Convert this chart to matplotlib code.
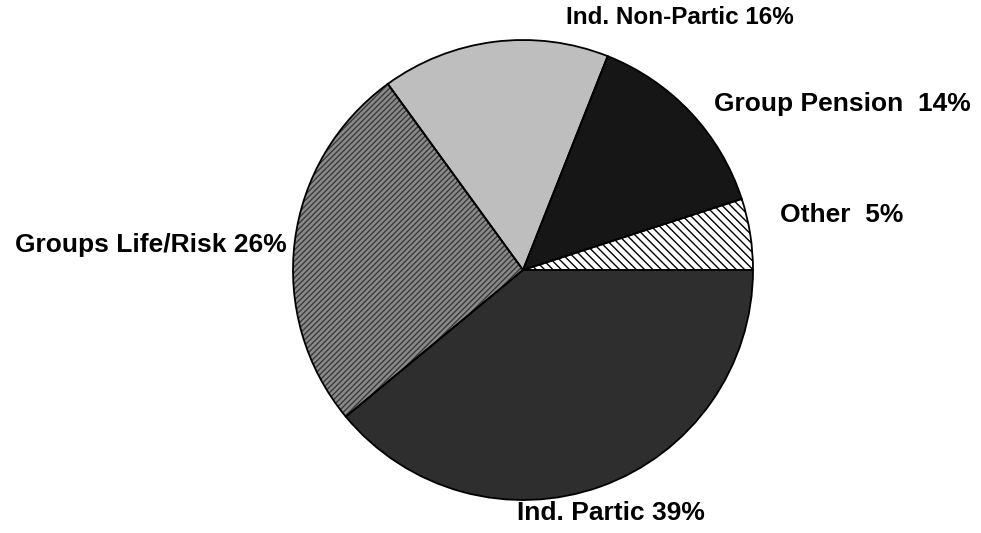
import matplotlib
matplotlib.use("Agg")
import matplotlib.pyplot as plt

categories = ["Other", "Group Pension", "Ind. Non-Partic", "Groups Life/Risk", "Ind. Partic"]
values = [5, 14, 16, 26, 39]
labels = ["Other  5%", "Group Pension  14%", "Ind. Non-Partic 16%", "Groups Life/Risk 26%", "Ind. Partic 39%"]

fills = ["white", "#161616", "#bebebe", "#8a8a8a", "#2e2e2e"]
hatches = ["\\\\\\\\", None, None, "//////", None]
hatch_cols = ["black", "#161616", "#bebebe", "#3a3a3a", "#2e2e2e"]

W, H = 981, 533
fig = plt.figure(figsize=(W / 100, H / 100), dpi=100)
ax = fig.add_axes([0, 0, 1, 1])

center = (523, H - 270)
R = 230

wedges, _ = ax.pie(values, startangle=0, counterclock=True, center=center, radius=R,
                   wedgeprops=dict(linewidth=0))
for w, fc, hc, hz in zip(wedges, fills, hatch_cols, hatches):
    w.set_facecolor(fc)
    w.set_edgecolor(hc)
    if hz:
        w.set_hatch(hz)
        w.set_linewidth(0)

outl, _ = ax.pie(values, startangle=0, counterclock=True, center=center, radius=R,
                 wedgeprops=dict(fill=False, edgecolor="black", linewidth=1.3))

ax.set_xlim(0, W)
ax.set_ylim(0, H)
ax.set_aspect("equal")
ax.axis("off")

fp = dict(family=["Liberation Sans", "DejaVu Sans"], fontweight="bold", color="black")
# label placements (pixel coordinates)
ax.text(842, H - 215, labels[0], ha="center", va="center", fontsize=19, **fp)
ax.text(842, H - 104, labels[1], ha="center", va="center", fontsize=19, **fp)
ax.text(680, H - 17, labels[2], ha="center", va="center", fontsize=17.5, **fp)
ax.text(287, H - 245, labels[3], ha="right", va="center", fontsize=19, **fp)
ax.text(611, H - 513, labels[4], ha="center", va="center", fontsize=19, **fp)

fig.savefig("out.png", dpi=100)
